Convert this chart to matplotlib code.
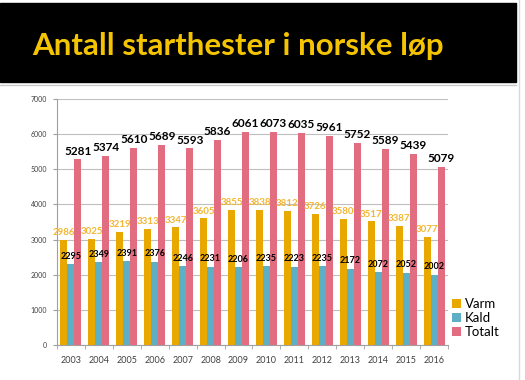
import numpy as np
import matplotlib
matplotlib.use("Agg")
import matplotlib.pyplot as plt
from matplotlib.patches import Rectangle

plt.rcParams["font.family"] = ["Lato", "DejaVu Sans"]

# Data
years = ["2003", "2004", "2005", "2006", "2007", "2008", "2009",
         "2010", "2011", "2012", "2013", "2014", "2015", "2016"]
varm = [2986, 3025, 3219, 3313, 3347, 3605, 3855,
        3838, 3812, 3726, 3580, 3517, 3387, 3077]
kald = [2295, 2349, 2391, 2376, 2246, 2231, 2206,
        2235, 2223, 2235, 2172, 2072, 2052, 2002]
totalt = [5281, 5374, 5610, 5689, 5593, 5836, 6061,
          6073, 6035, 5961, 5752, 5589, 5439, 5079]

C_VARM = "#E9A800"
C_KALD = "#5DAFC6"
C_TOT = "#E26C80"

W, H = 525, 380
fig = plt.figure(figsize=(W / 100, H / 100), dpi=100)
fig.patch.set_facecolor("white")

# Title band
fig.patches.append(Rectangle((0, 1 - 82 / H), 516 / W, 79 / H,
                             transform=fig.transFigure, color="black",
                             zorder=0))
fig.add_artist(plt.Line2D([0, 516 / W], [1 - 85 / H, 1 - 85 / H],
                          transform=fig.transFigure, color="#C8C8C8", lw=1))
fig.add_artist(plt.Line2D([519 / W, 519 / W], [0, 1],
                          transform=fig.transFigure, color="#D8D8D8", lw=1))
fig.text(32 / W, 1 - 46 / H, "Antall starthester i norske løp",
         color="#F5C400", fontsize=22.5, fontweight="bold", va="center",
         ha="left")

ax = fig.add_axes([57 / W, 35 / H, (448 - 57) / W, (345 - 99) / H])
x = np.arange(len(years))
bw = 0.25
b1 = ax.bar(x - bw, varm, bw, color=C_VARM, label="Varm", zorder=2)
b2 = ax.bar(x, kald, bw, color=C_KALD, label="Kald", zorder=2)
b3 = ax.bar(x + bw, totalt, bw, color=C_TOT, label="Totalt", zorder=2)

for xi, v in zip(x, varm):
    ax.annotate(str(v), (xi - bw, v), xytext=(0, 2), textcoords="offset points",
                ha="center", va="bottom", fontsize=7, color="#F2B632",
                fontweight="bold")
for xi, v in zip(x, kald):
    ax.annotate(str(v), (xi, v), xytext=(0, 2.5), textcoords="offset points",
                ha="center", va="bottom", fontsize=6.5, color="black",
                fontweight="bold")
for xi, v in zip(x, totalt):
    ax.annotate(str(v), (xi + bw, v), xytext=(0, 2), textcoords="offset points",
                ha="center", va="bottom", fontsize=8.5, color="black",
                fontweight="bold")

ax.set_xlim(-0.5, len(years) - 0.5)
ax.set_ylim(0, 7000)
ax.set_yticks(np.arange(0, 7001, 1000))
ax.yaxis.grid(True, color="#BFBFBF", lw=0.8, zorder=0)
ax.set_xticks(x)
ax.set_xticklabels(years, fontsize=6.5, color="#404040")
ax.set_xticks(np.arange(-0.5, len(years), 1), minor=True)
ax.tick_params(axis="x", which="major", length=0, pad=8)
ax.tick_params(axis="x", which="minor", length=3, color="#A0A0A0")
ax.tick_params(axis="y", length=3, color="#A0A0A0", labelsize=5,
               labelcolor="#404040", pad=4)
for s in ["top", "right"]:
    ax.spines[s].set_visible(False)
for s in ["left", "bottom"]:
    ax.spines[s].set_color("#A0A0A0")
    ax.spines[s].set_linewidth(0.8)

fig.legend(handles=[b1, b2, b3], labels=["Varm", "Kald", "Totalt"],
           loc="center left", bbox_to_anchor=(448 / W, 1 - 318 / H),
           frameon=False, fontsize=9.5, handlelength=0.7, handleheight=0.7,
           handletextpad=0.3, labelspacing=0.15, borderaxespad=0,
           borderpad=0.3)

fig.savefig("out.png", dpi=100, facecolor="white")
